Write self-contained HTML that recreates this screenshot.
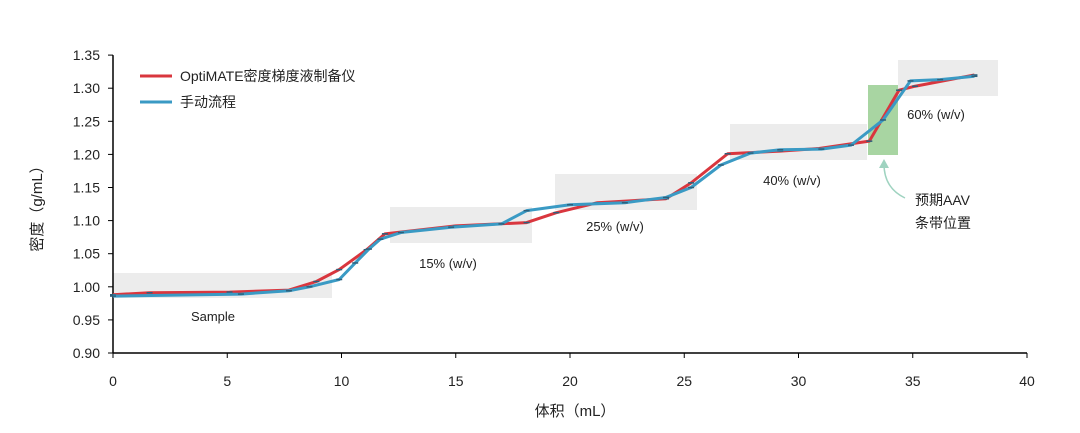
<!DOCTYPE html>
<html><head><meta charset="utf-8"><style>
body{margin:0;background:#fff;}
svg{display:block;font-family:"Liberation Sans","Noto Sans CJK SC",sans-serif;}
</style></head><body>
<svg id="c" width="1080" height="433"></svg>
<script>
const xTicks=[0,5,10,15,20,25,30,35,40];
const yTicks=[0.90,0.95,1.00,1.05,1.10,1.15,1.20,1.25,1.30,1.35];
const redX=[0,1.6,5.1,7.7,8.9,9.9,11.1,11.9,15.0,18.1,19.4,21.2,24.2,25.3,26.9,29.2,30.9,33.1,34.4,35.1,37.7];
const redY=[0.988,0.991,0.992,0.995,1.008,1.026,1.056,1.080,1.092,1.097,1.112,1.127,1.133,1.157,1.201,1.205,1.209,1.220,1.297,1.303,1.320];
const blueX=[0,5.6,7.7,8.6,9.9,10.6,11.2,11.7,12.6,14.8,17.0,18.1,20.0,22.4,24.2,25.3,26.6,27.9,29.2,31.0,32.3,33.7,34.9,36.2,37.7];
const blueY=[0.986,0.989,0.994,1.000,1.011,1.036,1.057,1.072,1.082,1.090,1.095,1.115,1.124,1.127,1.135,1.150,1.184,1.202,1.207,1.208,1.214,1.252,1.311,1.313,1.318];
const X=v=>113+v*22.85, Y=d=>353-(d-0.9)*662;
const s=document.getElementById('c'),NS='http://www.w3.org/2000/svg';
function mk(t,a,p){const e=document.createElementNS(NS,t);for(const k in a)e.setAttribute(k,a[k]);(p||s).appendChild(e);return e;}
// shaded regions
const boxes=[[113,273,219,25,'#ececec','sample-region'],[390,207,142,36,'#ececec','region-15'],[555,174,142,36,'#ececec','region-25'],[730,124,137,36,'#ececec','region-40'],[898,60,100,36,'#ececec','region-60'],[868,85,30,70,'#a8d5a2','aav-band-region']];
boxes.forEach(b=>{const r=mk('rect',{x:b[0],y:b[1],width:b[2],height:b[3],fill:b[4]});

});
// axes
const ax=mk('g',{});


mk('line',{x1:113,y1:Y(1.35),x2:113,y2:353,stroke:'#000','stroke-width':1.5},ax);
mk('line',{x1:113,y1:353,x2:X(40),y2:353,stroke:'#000','stroke-width':1.5},ax);
yTicks.forEach(t=>{mk('line',{x1:108,x2:113,y1:Y(t),y2:Y(t),stroke:'#000'},ax);
const tx=mk('text',{x:100,y:Y(t)+5,'text-anchor':'end','font-size':14,fill:'#222'},ax);tx.textContent=t.toFixed(2);

});
xTicks.forEach(t=>{mk('line',{x1:X(t),x2:X(t),y1:353,y2:358,stroke:'#000'},ax);
const tx=mk('text',{x:X(t),y:386,'text-anchor':'middle','font-size':14,fill:'#222'},ax);tx.textContent=t;

});
const yt=mk('text',{x:0,y:0,transform:'translate(42,205) rotate(-90)','text-anchor':'middle','font-size':15,fill:'#222'});yt.textContent='密度（g/mL）';


const xt=mk('text',{x:575,y:416,'text-anchor':'middle','font-size':15,fill:'#222'});xt.textContent='体积（mL）';


// series
function series(xs,ys,col,name){const p=xs.map((v,i)=>X(v)+','+Y(ys[i])).join(' ');
const l=mk('polyline',{points:p,fill:'none',stroke:col,'stroke-width':3,'stroke-linejoin':'round'});


xs.forEach((v,i)=>{const m=mk('line',{x1:X(v)-3,x2:X(v)+3,y1:Y(ys[i]),y2:Y(ys[i]),stroke:'#2d5f7a','stroke-width':1.5});

});}
series(redX,redY,'#d9363e','optimate-series');
series(blueX,blueY,'#3a9ac4','manual-series');
// labels
[['Sample',213,321],['15% (w/v)',448,268],['25% (w/v)',615,231],['40% (w/v)',792,185],['60% (w/v)',936,119]].forEach(a=>{const t=mk('text',{x:a[1],y:a[2],'text-anchor':'middle','font-size':13,fill:'#222'});t.textContent=a[0];

});
const a1=mk('text',{x:915,y:205,'font-size':14,fill:'#222'});a1.textContent='预期AAV';


const a2=mk('text',{x:915,y:228,'font-size':14,fill:'#222'});a2.textContent='条带位置';


const ar=mk('path',{d:'M905,198 Q884,188 884,164',fill:'none',stroke:'#9fd3c0','stroke-width':1.5});


mk('path',{d:'M879,168 L884,159 L889,168 Z',fill:'#9fd3c0'});
// legend
const lg=mk('g',{});


mk('line',{x1:140,x2:172,y1:76,y2:76,stroke:'#d9363e','stroke-width':3},lg);
const l1=mk('text',{x:180,y:81,'font-size':14,fill:'#222'},lg);l1.textContent='OptiMATE密度梯度液制备仪';
mk('line',{x1:140,x2:172,y1:102,y2:102,stroke:'#3a9ac4','stroke-width':3},lg);
const l2=mk('text',{x:180,y:107,'font-size':14,fill:'#222'},lg);l2.textContent='手动流程';
</script>
</body></html>
